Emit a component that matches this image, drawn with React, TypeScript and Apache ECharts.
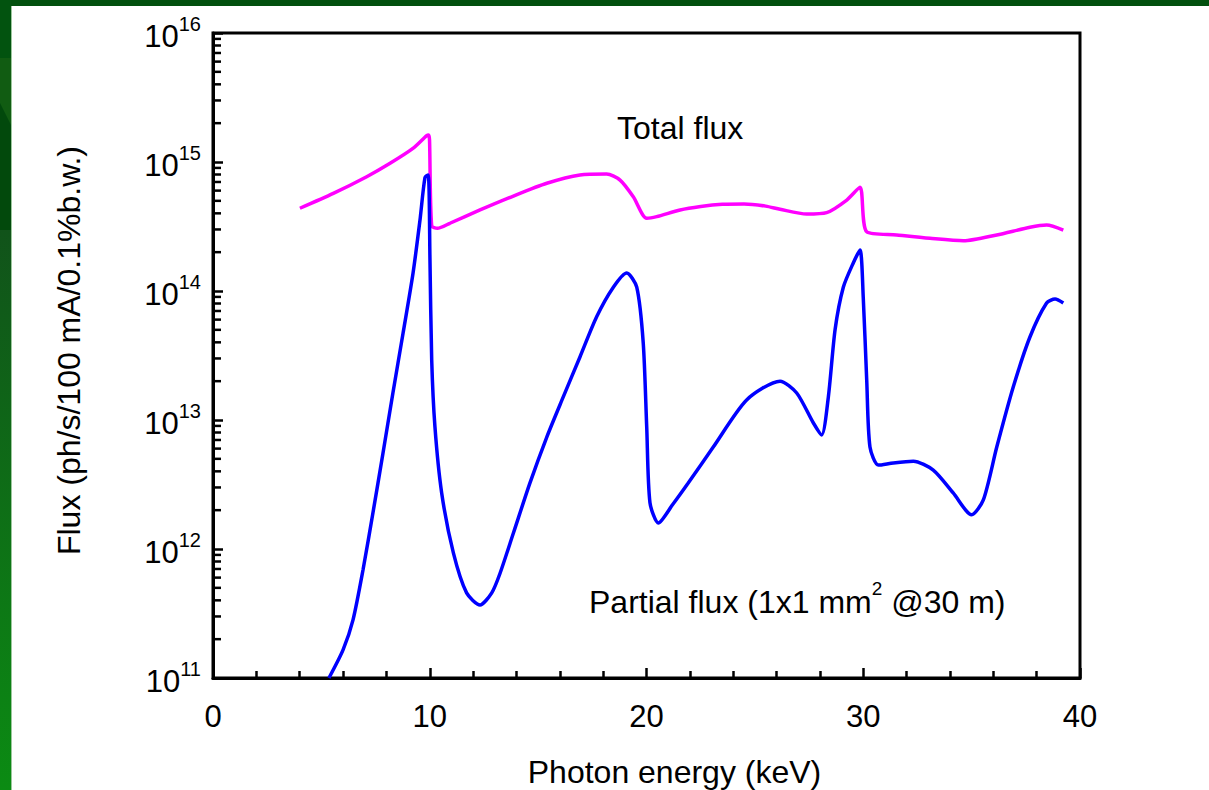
import React, { useEffect, useRef } from "react";
import * as echarts from "echarts";

const FONT = "'Liberation Sans', Arial, sans-serif";

// Total flux (magenta)
const totalEnergy = [4.01, 5.55, 7.09, 8.17, 9.24, 9.86, 9.95, 9.99, 10.09, 10.35, 10.93, 12.32, 13.86, 15.4, 16.93, 18.16, 18.78, 19.39, 20.01, 20.47, 21.55, 22.5, 23.5, 24.5, 25.5, 26.16, 27.39, 28.31, 29.24, 29.85, 30.16, 31.54, 33.08, 34.62, 36.16, 37.69, 38.46, 39.23];
const totalFlux = [4.38e14, 5.71e14, 7.69e14, 9.77e14, 1.28e15, 1.6e15, 1.62e15, 1.48e15, 3.2e14, 3.06e14, 3.35e14, 4.25e14, 5.45e14, 6.84e14, 7.93e14, 8.07e14, 7.24e14, 5.38e14, 3.66e14, 3.77e14, 4.25e14, 4.52e14, 4.7e14, 4.73e14, 4.55e14, 4.3e14, 3.95e14, 4.05e14, 5.07e14, 6.37e14, 2.88e14, 2.72e14, 2.56e14, 2.45e14, 2.72e14, 3.12e14, 3.25e14, 2.97e14];

// Partial flux (blue)
const partialEnergy = [5.35, 6.0, 6.46, 6.92, 7.38, 7.84, 8.3, 8.77, 9.23, 9.55, 9.78, 9.93, 10.01, 10.09, 10.24, 10.55, 11.09, 11.7, 12.32, 12.86, 13.24, 13.86, 14.62, 15.4, 16.16, 16.93, 17.7, 18.47, 19.09, 19.55, 19.85, 20.01, 20.16, 20.55, 21.2, 21.9, 23.08, 24.62, 26.16, 26.93, 27.7, 28.08, 28.39, 28.7, 29.08, 29.54, 29.85, 30.0, 30.16, 30.31, 30.7, 31.39, 32.31, 33.23, 34.15, 35.0, 35.54, 36.16, 36.92, 37.69, 38.46, 38.85, 39.23];
const partialFlux = [1.0e11, 1.65e11, 2.82e11, 6.87e11, 1.91e12, 5.5e12, 1.62e13, 4.72e13, 1.38e14, 3.55e14, 7.59e14, 7.94e14, 1.74e14, 2.92e13, 8.83e12, 2.72e12, 9.33e11, 4.57e11, 3.68e11, 4.57e11, 6.46e11, 1.33e12, 3.24e12, 7.38e12, 1.51e13, 3.08e13, 6.31e13, 1.07e14, 1.38e14, 1.07e14, 3.95e13, 8.83e12, 2.28e12, 1.59e12, 2.2e12, 3.2e12, 6.17e12, 1.43e13, 2.0e13, 1.62e13, 9.48e12, 7.66e12, 1.51e13, 5.01e13, 1.07e14, 1.65e14, 2.08e14, 8.91e13, 2.04e13, 6.17e12, 4.47e12, 4.65e12, 4.79e12, 4.09e12, 2.72e12, 1.84e12, 2.4e12, 6.17e12, 1.8e13, 4.4e13, 8.07e13, 8.67e13, 8.07e13];

// Axis ticks
const xTicks = [0, 10, 20, 30, 40];
const yMinorTicks = [
  2e11, 3e11, 4e11, 5e11, 6e11, 7e11, 8e11, 9e11,
  2e12, 3e12, 4e12, 5e12, 6e12, 7e12, 8e12, 9e12,
  2e13, 3e13, 4e13, 5e13, 6e13, 7e13, 8e13, 9e13,
  2e14, 3e14, 4e14, 5e14, 6e14, 7e14, 8e14, 9e14,
  2e15, 3e15, 4e15, 5e15, 6e15, 7e15, 8e15, 9e15,
];

const xName = "Photon energy (keV)";
const yName = "Flux (ph/s/100 mA/0.1%b.w.)";
const totalLabel = "Total flux";

export default function App() {
  const ref = useRef<HTMLDivElement>(null);
  useEffect(() => {
    if (!ref.current) return;
    const chart = echarts.init(ref.current, undefined, { renderer: "svg" });
    const option: any = {
      animation: false,
      backgroundColor: "#ffffff",
      textStyle: { fontFamily: FONT },
      grid: {
        left: 213,
        right: 129,
        top: 33,
        bottom: 112,
        show: true,
        borderColor: "#000",
        borderWidth: 3,
        backgroundColor: "transparent",
        containLabel: false,
        outerBoundsMode: "none",
      },
      xAxis: {
        type: "value",
        min: xTicks[0],
        max: xTicks[xTicks.length - 1],
        interval: 10,
        name: xName,
        nameLocation: "middle",
        nameGap: 78,
        nameTextStyle: { fontSize: 32, color: "#000", fontFamily: FONT, padding: [0, 0, 0, 56] },
        axisLine: { show: true, lineStyle: { color: "#000", width: 3 } },
        axisTick: { show: true, inside: true, length: 10, lineStyle: { color: "#000", width: 2.5 } },
        minorTick: { show: true, splitNumber: 5, length: 7, lineStyle: { color: "#000", width: 2.5 } },
        splitLine: { show: false },
        minorSplitLine: { show: false },
        axisLabel: { fontSize: 31, color: "#000", margin: 23, fontFamily: FONT },
      },
      yAxis: {
        type: "log",
        logBase: 10,
        min: 1e11,
        max: 1e16,
        splitNumber: 5,
        name: yName,
        nameLocation: "middle",
        nameGap: 128,
        nameTextStyle: { fontSize: 32, color: "#000", fontFamily: FONT, padding: [0, 0, 0, 10] },
        axisLine: { show: true, lineStyle: { color: "#000", width: 3 } },
        axisTick: { show: true, inside: true, length: 10, lineStyle: { color: "#000", width: 2.5 } },
        splitLine: { show: false },
        axisLabel: {
          margin: 12,
          color: "#000",
          formatter: (v: number) => `{b|10}{s|${Math.round(Math.log10(v))}}`,
          rich: {
            b: { fontSize: 31, fontFamily: FONT, color: "#000", verticalAlign: "bottom", padding: [7, 0, 0, 0], lineHeight: 38 },
            s: { fontSize: 20, fontFamily: FONT, color: "#000", verticalAlign: "top", lineHeight: 20 },
          },
        },
      },
      series: [
        {
          type: "custom",
          name: "yMinor",
          silent: true,
          clip: false,
          z: 5,
          data: yMinorTicks.map((v) => [0, v]),
          renderItem: (_p: any, api: any) => {
            const pt = api.coord([0, api.value(1)]);
            return {
              type: "line",
              shape: { x1: pt[0], y1: pt[1], x2: pt[0] + 8, y2: pt[1] },
              style: { stroke: "#000", lineWidth: 2.5 },
            };
          },
        },
        {
          type: "line",
          name: "Total flux",
          data: totalEnergy.map((e, i) => [e, totalFlux[i]]),
          showSymbol: false,
          smooth: 0.25,
          lineStyle: { color: "#ff00ff", width: 3.5 },
          itemStyle: { color: "#ff00ff" },
        },
        {
          type: "line",
          name: "Partial flux",
          data: partialEnergy.map((e, i) => [e, partialFlux[i]]),
          showSymbol: false,
          smooth: 0.25,
          lineStyle: { color: "#0000ff", width: 3.5 },
          itemStyle: { color: "#0000ff" },
        },
      ],
      graphic: [
        { type: "rect", z: -10, shape: { x: 0, y: 0, width: 1209, height: 6 }, style: { fill: "#02500e" } },
        { type: "rect", z: -10, shape: { x: 0, y: 0, width: 11, height: 58 }, style: { fill: "#02530f" } },
        { type: "rect", z: -10, shape: { x: 0, y: 58, width: 11, height: 70 }, style: { fill: "#115c12" } },
        { type: "polygon", z: -9, shape: { points: [[0, 103], [11, 125], [11, 230], [0, 230]] }, style: { fill: "#02490c" } },
        {
          type: "rect",
          z: -10,
          shape: { x: 0, y: 230, width: 11, height: 560 },
          style: {
            fill: new echarts.graphic.LinearGradient(0, 0, 0, 1, [
              { offset: 0, color: "#11531a" },
              { offset: 1, color: "#0b8b13" },
            ]),
          },
        },
        { type: "line", z: -8, shape: { x1: 11.5, y1: 6, x2: 11.5, y2: 790 }, style: { stroke: "#9cc79c", lineWidth: 1 } },
        {
          type: "text",
          z: 10,
          style: { text: totalLabel, x: 617, y: 128, fontSize: 32, fontFamily: FONT, fill: "#000", verticalAlign: "middle" },
        },
        {
          type: "text",
          z: 10,
          style: {
            text: "{b|Partial flux (1x1 mm}{s|2}{b| @30 m)}",
            x: 589,
            y: 598,
            fill: "#000",
            verticalAlign: "middle",
            rich: {
              b: { fontSize: 32, fontFamily: FONT, fill: "#000", verticalAlign: "bottom", padding: [7, 0, 0, 0], lineHeight: 39 },
              s: { fontSize: 19, fontFamily: FONT, fill: "#000", verticalAlign: "top", lineHeight: 19 },
            },
          },
        },
      ],
    };
    chart.setOption(option);
    return () => chart.dispose();
  }, []);
  return <div ref={ref} style={{ position: "absolute", left: 0, top: 0, width: 1209, height: 790 }} />;
}
